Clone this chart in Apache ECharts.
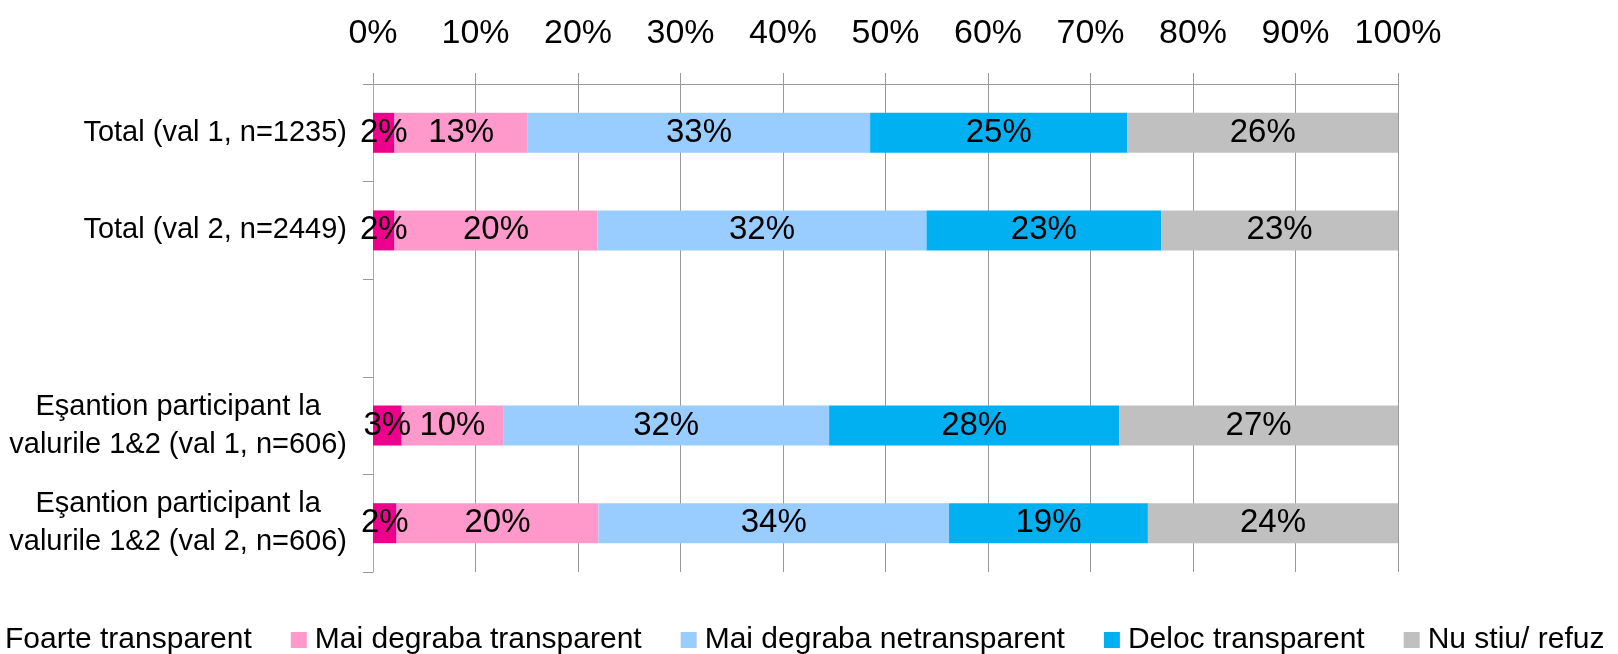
<!DOCTYPE html>
<html>
<head>
<meta charset="utf-8">
<script src="https://cdn.jsdelivr.net/npm/echarts@6/dist/echarts.min.js"></script>
<style>
html, body { margin: 0; padding: 0; background: #fff; }
#myChart { width: 1618px; height: 654px; }
</style>
</head>
<body>
<div id="myChart"></div>
<script>
// categories (empty one = the gap between the two groups)
var categories = [
  'Total (val 1, n=1235)',
  'Total (val 2, n=2449)',
  '',
  'Eşantion participant la\nvalurile 1&2 (val 1, n=606)',
  'Eşantion participant la\nvalurile 1&2 (val 2, n=606)'
];
var seriesNames = ['Foarte transparent', 'Mai degraba transparent', 'Mai degraba netransparent', 'Deloc transparent', 'Nu stiu/ refuz'];

// percentages
var foarte      = [2.1, 2.1, '-', 2.8, 2.3];
var maiTransp   = [13.0, 19.8, '-', 9.9, 19.7];
var maiNetransp = [33.4, 32.1, '-', 31.8, 34.2];
var deloc       = [25.1, 22.9, '-', 28.3, 19.4];
var nuStiu      = [26.4, 23.1, '-', 27.2, 24.4];

var colors = ['#EC008C', '#FF99CC', '#99CCFF', '#00B0F0', '#C0C0C0'];
var font = '"Liberation Sans", Arial, sans-serif';

var allData = [foarte, maiTransp, maiNetransp, deloc, nuStiu];

var series = seriesNames.map(function (name, i) {
  return {
    name: name,
    type: 'bar',
    stack: 'total',
    barWidth: 40,
    itemStyle: { color: colors[i] },
    label: {
      show: true,
      position: 'inside',
      color: '#000',
      fontSize: 33,
      fontFamily: font,
      formatter: function (p) { return Math.round(p.value) + '%'; }
    },
    data: allData[i]
  };
});

var option = {
  animation: false,
  backgroundColor: '#fff',
  textStyle: { fontFamily: font },
  grid: { left: 373, right: 220, top: 84, bottom: 82, containLabel: false },
  legend: {
    data: seriesNames,
    left: -19,
    top: 624,
    width: 1700,
    padding: 0,
    icon: 'rect',
    itemWidth: 16,
    itemHeight: 16,
    itemGap: 39,
    textStyle: { fontSize: 30, color: '#000', fontFamily: font, lineHeight: 32, padding: [0, 0, 0, 3] }
  },
  xAxis: {
    type: 'value',
    position: 'top',
    min: 0,
    max: 100,
    interval: 10,
    axisLine: { show: true, lineStyle: { color: '#999', width: 1 } },
    axisTick: { show: true, length: 11, lineStyle: { color: '#999' } },
    axisLabel: { formatter: '{value}%', fontSize: 34, color: '#000', margin: 33, fontFamily: font },
    splitLine: { show: true, lineStyle: { color: '#999', width: 1 } }
  },
  yAxis: {
    type: 'category',
    inverse: true,
    data: categories,
    axisLine: { show: true, lineStyle: { color: '#aaa', width: 1 } },
    axisTick: { show: true, length: 10, lineStyle: { color: '#999' } },
    axisLabel: {
      margin: 26,
      color: '#000',
      fontSize: 29,
      fontFamily: font,
      formatter: function (v) {
        if (!v) return '';
        return v.split('\n').map(function (s) { return '{c|' + s + '}'; }).join('\n');
      },
      rich: {
        c: { align: 'center', fontSize: 29, lineHeight: 38, color: '#000', fontFamily: font }
      }
    }
  },
  series: series
};

var myChart = echarts.init(document.getElementById('myChart'));
myChart.setOption(option);
</script>
</body>
</html>
